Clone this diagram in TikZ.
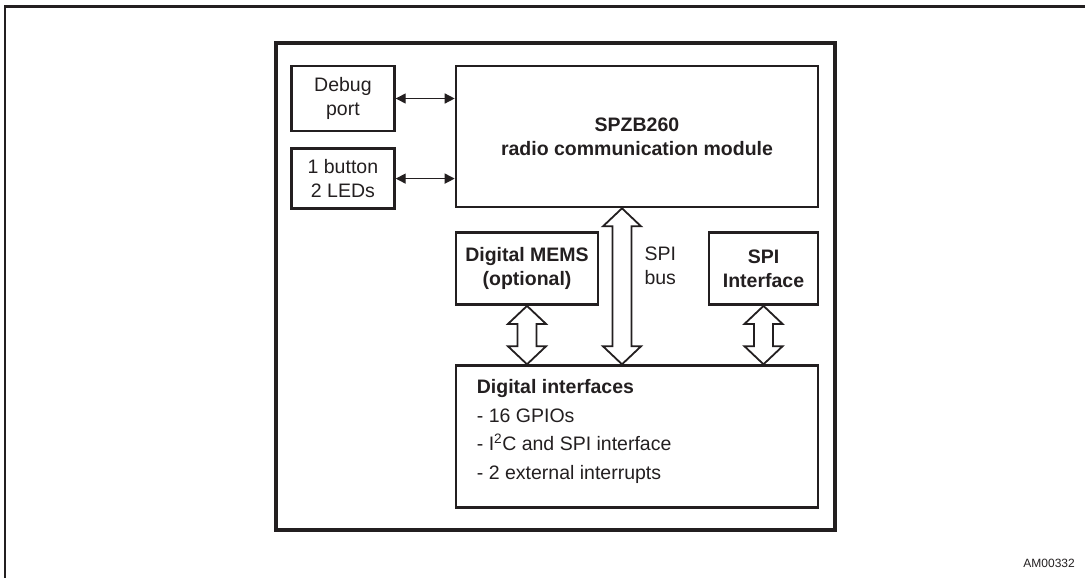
\documentclass[tikz,border=0pt]{standalone}
\usepackage{fontspec}
\setmainfont{Liberation Sans}
\usetikzlibrary{positioning,calc,arrows.meta}

\definecolor{ink}{HTML}{231F20}

% hollow double arrow between two vertically aligned points (top, bottom)
\newcommand{\fatarrow}[2]{%
  \draw[fatline] let \p1=(#1), \p2=(#2) in
    (\x1,\y1) -- (\x1+19pt,\y1-18pt) -- (\x1+9.5pt,\y1-18pt) -- (\x1+9.5pt,\y2+18pt)
    -- (\x1+19pt,\y2+18pt) -- (\x1,\y2) -- (\x1-19pt,\y2+18pt) -- (\x1-9.5pt,\y2+18pt)
    -- (\x1-9.5pt,\y1-18pt) -- (\x1-19pt,\y1-18pt) -- cycle;}

\begin{document}
\begin{tikzpicture}[x=1pt,y=-1pt,font=\fontsize{19.5}{24}\selectfont,color=ink]

\tikzstyle{blk}=[draw,line width=2.6pt,align=center,inner sep=0pt]
\tikzstyle{fatline}=[draw,fill=white,line width=1.8pt,line join=miter]
\tikzstyle{thin}=[line width=1.4pt,{Triangle[length=10pt,width=10pt]}-{Triangle[length=10pt,width=10pt]}]

\useasboundingbox (0,0) rectangle (1085,578);

% FRAME
\draw[line width=2.4pt] (5,590) -- (5,6.5) -- (1095,6.5);
\node[draw,line width=3.4pt,minimum width=559pt,minimum height=487pt](board) at (555.5,286.5){};

% NODES
% radio module and its side blocks
\node[blk,minimum width=362pt,minimum height=141pt,font=\fontsize{19.5}{24}\selectfont\bfseries](radio) at (637,136.5){SPZB260\\radio communication module};
\node[blk,minimum width=103pt,minimum height=65pt,left=59pt of radio.north west,anchor=north east](debug){Debug\\port};
\node[blk,minimum width=103pt,minimum height=60pt,below=15pt of debug](button){1 button\\2 LEDs};

% peripherals
\node[blk,minimum width=142pt,minimum height=72pt,font=\fontsize{19.5}{24}\selectfont\bfseries,below=23pt of radio.south west,anchor=north west](mems){Digital MEMS\\(optional)};
\node[blk,minimum width=109pt,minimum height=72pt,font=\fontsize{19.5}{24}\selectfont\bfseries,below=23pt of radio.south east,anchor=north east](spi){SPI\\Interface};

% digital interfaces
\node[blk,minimum width=362pt,minimum height=142pt,below=156pt of radio.south,anchor=north](digif){};
\node[align=left,anchor=north west,inner sep=0pt,font=\fontsize{19.5}{28.5}\selectfont](digtxt) at ([xshift=22pt,yshift=-15pt]digif.north west){\textbf{Digital interfaces}\\- 16 GPIOs\\- I\textsuperscript{2}C and SPI interface\\- 2 external interrupts};

% SPI bus label
\coordinate(bus) at ([xshift=-15pt]radio.south);
\node[align=left,anchor=west](buslbl) at (641,266){SPI\\bus};

% ARROWS
\draw[thin](debug.east) -- (debug.east -| radio.west);
\draw[thin](button.east) -- (button.east -| radio.west);

\fatarrow{bus}{bus |- digif.north}
\fatarrow{mems.south}{mems.south |- digif.north}
\fatarrow{spi.south}{spi.south |- digif.north}

\node[anchor=base east,inner sep=0pt,font=\fontsize{12}{14}\selectfont](ref) at (1075,567){AM00332};

\end{tikzpicture}
\end{document}
